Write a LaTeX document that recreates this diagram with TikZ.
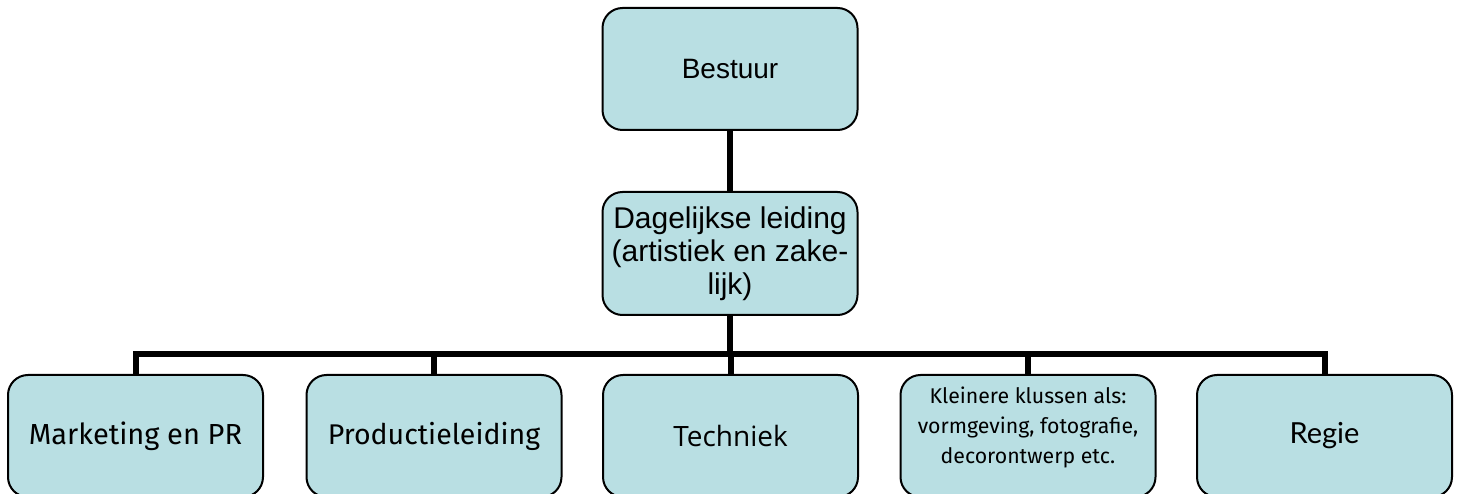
\documentclass[tikz,border=0pt]{standalone}
\usepackage{fontspec}
\usepackage{xcolor}
\usetikzlibrary{positioning}
\newfontfamily\arialf{Liberation Sans}
\newfontfamily\humf{Fira Sans}
\newfontfamily\latof{Lato}
\newfontfamily\opensf{Open Sans}
\definecolor{blokblauw}{HTML}{B9DFE3}
\tikzset{blok/.style={rectangle,rounded corners=20pt,draw,line width=2pt,fill=blokblauw,minimum width=255pt,inner sep=0pt,align=center},
  lijn/.style={line width=6pt,line join=miter}}

\begin{document}
\begin{tikzpicture}[x=1pt,y=-1pt]
    \useasboundingbox (0,0) rectangle (1460,494);
    \clip (0,0) rectangle (1460,494);
        \node[blok,minimum height=122pt,font=\arialf\fontsize{28}{32}\selectfont] (best) at (730,69) {Bestuur};
        \node[blok,minimum height=123pt,font=\arialf\fontsize{30}{33}\selectfont] (dag) at (730,253.5) {Dagelijkse leiding\\(artistiek en zake-\\lijk)};
        \node[blok,minimum height=122pt,font=\humf\fontsize{29}{32}\selectfont] (mark) at (135.5,436) {Marketing en PR};
        \node[blok,minimum height=122pt,font=\humf\fontsize{28.5}{32}\selectfont] (prod) at (434,436) {Productieleiding};
        \node[blok,minimum height=122pt,font=\opensf\fontsize{28}{32}\selectfont] (tech) at (730.5,436) {Techniek};
        \node[blok,minimum height=122pt,text depth=22pt,font=\humf\fontsize{21.3}{30}\selectfont] (klein) at (1028,436) {Kleinere klussen als:\\vormgeving, fotografie,\\decorontwerp etc.};
        \node[blok,minimum height=122pt,font=\latof\fontsize{29}{32}\selectfont] (regie) at (1324.5,436) {Regie};
        \coordinate (rail) at (0,354);

        \draw [lijn] (best) -- (dag);
        \draw [lijn] (dag.south) -- (dag.south |- rail);
        \draw [lijn] (mark.north) |- (regie.north |- rail) -- (regie.north);
        \draw [lijn] (prod.north) -- (prod.north |- rail);
        \draw [lijn] (tech.north) -- (tech.north |- rail);
        \draw [lijn] (klein.north) -- (klein.north |- rail);
    \end{tikzpicture}
\end{document}
